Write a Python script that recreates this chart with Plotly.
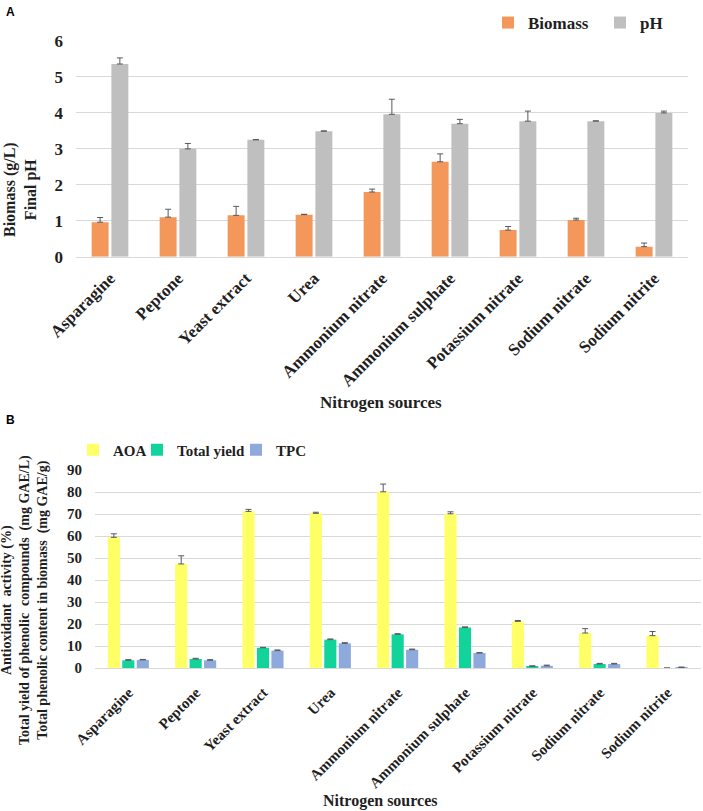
import plotly.graph_objects as go

categories = ["Asparagine", "Peptone", "Yeast extract", "Urea", "Ammonium nitrate",
              "Ammonium sulphate", "Potassium nitrate", "Sodium nitrate", "Sodium nitrite"]

# Panel A
biomass = [0.96, 1.10, 1.15, 1.17, 1.80, 2.64, 0.74, 1.02, 0.28]
biomass_err = [0.13, 0.22, 0.25, 0.01, 0.08, 0.22, 0.10, 0.05, 0.10]
ph = [5.36, 3.00, 3.25, 3.49, 3.96, 3.70, 3.77, 3.77, 4.00]
ph_err = [0.17, 0.15, 0.01, 0.01, 0.42, 0.12, 0.28, 0.01, 0.05]
yticks_a = [0, 1, 2, 3, 4, 5, 6]

# Panel B
aoa = [59.4, 47.3, 71.2, 70.3, 80.1, 70.1, 21.2, 15.9, 14.7]
aoa_err = [1.6, 3.7, 0.9, 0.5, 3.5, 0.9, 0.4, 2.0, 1.9]
total_yield = [3.5, 4.1, 9.2, 12.9, 15.3, 18.4, 0.8, 1.8, 0.0]
total_yield_err = [0.3, 0.3, 0.2, 0.3, 0.3, 0.3, 0.2, 0.3, 0.0]
tpc = [3.7, 3.5, 7.9, 11.2, 8.3, 6.8, 1.0, 1.8, 0.3]
tpc_err = [0.2, 0.3, 0.3, 0.3, 0.3, 0.2, 0.3, 0.3, 0.1]
yticks_b = [0, 10, 20, 30, 40, 50, 60, 70, 80, 90]

W, H = 703, 811
SERIF = "Liberation Serif, Times New Roman, serif"
TXT = "#1f1f1f"
ERR = "#595959"
GRID = "#D9D9D9"

def px(x):
    return x / W

def py(y):
    return 1 - y / H

def err(vals):
    return dict(type="data", array=vals, arrayminus=[0] * len(vals), symmetric=False,
                color=ERR, thickness=1, width=3)

fig = go.Figure()
fig.add_trace(go.Bar(name="Biomass", x=categories, y=biomass, error_y=err(biomass_err),
                     marker=dict(color="#F4975B", line=dict(width=0)), xaxis="x", yaxis="y",
                     legend="legend"))
fig.add_trace(go.Bar(name="pH", x=categories, y=ph, error_y=err(ph_err),
                     marker=dict(color="#BFBFBF", line=dict(width=0)), xaxis="x", yaxis="y",
                     legend="legend2"))

b_series = [("AOA", aoa, aoa_err, "#FFFF66", "legend3"),
            ("Total yield", total_yield, total_yield_err, "#12D39A", "legend4"),
            ("TPC", tpc, tpc_err, "#8EA9DB", "legend5")]
for i, (name, vals, e, col, lg) in enumerate(b_series):
    fig.add_trace(go.Bar(name=name, x=categories, y=vals, error_y=err(e),
                         marker=dict(color=col, line=dict(width=0)), xaxis="x2", yaxis="y2",
                         legend=lg, width=0.18, offset=-0.31 + i * 0.215))

def legend_at(sym_center, y_center, size):
    # plotly places the symbol ~20px right of the legend's left edge
    return dict(orientation="h", x=px(sym_center - 20), y=py(y_center), xanchor="left",
                yanchor="middle", font=dict(family=SERIF, size=size, color=TXT, weight="bold"),
                bgcolor="rgba(0,0,0,0)", borderwidth=0, itemwidth=30)

axis_common = dict(automargin=False, showgrid=False, zeroline=False, ticks="")

fig.update_layout(
    template="none",
    width=W, height=H,
    margin=dict(l=0, r=0, t=0, b=0, autoexpand=False),
    paper_bgcolor="white", plot_bgcolor="white",
    barmode="group", bargap=0.42, bargroupgap=0.14,
    showlegend=True,
    font=dict(family=SERIF, color=TXT),
    xaxis=dict(axis_common, domain=[px(76), px(688)], anchor="y", tickangle=-45,
               tickfont=dict(family=SERIF, size=17, color=TXT, weight="bold"),
               showline=True, linecolor=GRID, linewidth=1, ticklabelstandoff=4),
    yaxis=dict(axis_common, domain=[py(256.7), py(41)], anchor="x", range=[0, 6],
               tickvals=yticks_a, showgrid=True, gridcolor=GRID, gridwidth=1,
               tickfont=dict(family=SERIF, size=17, color=TXT, weight="bold"),
               ticklabelstandoff=12),
    xaxis2=dict(axis_common, domain=[px(95), px(701)], anchor="y2", tickangle=-45,
                tickfont=dict(family=SERIF, size=15, color=TXT, weight="bold"),
                showline=True, linecolor=GRID, linewidth=1, ticklabelstandoff=9),
    yaxis2=dict(axis_common, domain=[py(668), py(470)], anchor="x2", range=[0, 90],
                tickvals=yticks_b, showgrid=True, gridcolor=GRID, gridwidth=1,
                tickfont=dict(family=SERIF, size=15, color=TXT, weight="bold"),
                ticklabelstandoff=12),
    legend=legend_at(508, 23, 17),
    legend2=legend_at(620, 23, 17),
    legend3=legend_at(93, 450, 15),
    legend4=legend_at(157, 450, 15),
    legend5=legend_at(256, 450, 15),
)

anns = [
    dict(text="<b>A</b>", x=px(4), y=py(3), xanchor="left", yanchor="top",
         font=dict(family="Liberation Sans, Arial", size=12, color="#000")),
    dict(text="<b>B</b>", x=px(4), y=py(411), xanchor="left", yanchor="top",
         font=dict(family="Liberation Sans, Arial", size=12, color="#000")),
    dict(text="<b>Nitrogen sources</b>", x=px(381), y=py(403), xanchor="center", yanchor="middle",
         font=dict(family=SERIF, size=17, color=TXT)),
    dict(text="<b>Nitrogen sources</b>", x=px(380), y=py(801), xanchor="center", yanchor="middle",
         font=dict(family=SERIF, size=16, color=TXT)),
    dict(text="<b>Biomass (g/L)</b><br><b>Final pH</b>", x=px(20), y=py(190), textangle=-90,
         xanchor="center", yanchor="middle", font=dict(family=SERIF, size=16, color=TXT)),
    dict(text="<b>Antioxidant  activity (%)</b><br><b>Total yield of phenolic  compounds  (mg GAE/L)</b><br>"
              "<b>Total phenolic content in biomass  (mg GAE/g)</b>",
         x=px(25), y=py(600), textangle=-90, xanchor="center", yanchor="middle",
         font=dict(family=SERIF, size=14, color=TXT)),
]
for a in anns:
    fig.add_annotation(xref="paper", yref="paper", showarrow=False, **a)

fig.write_html("out.html")
